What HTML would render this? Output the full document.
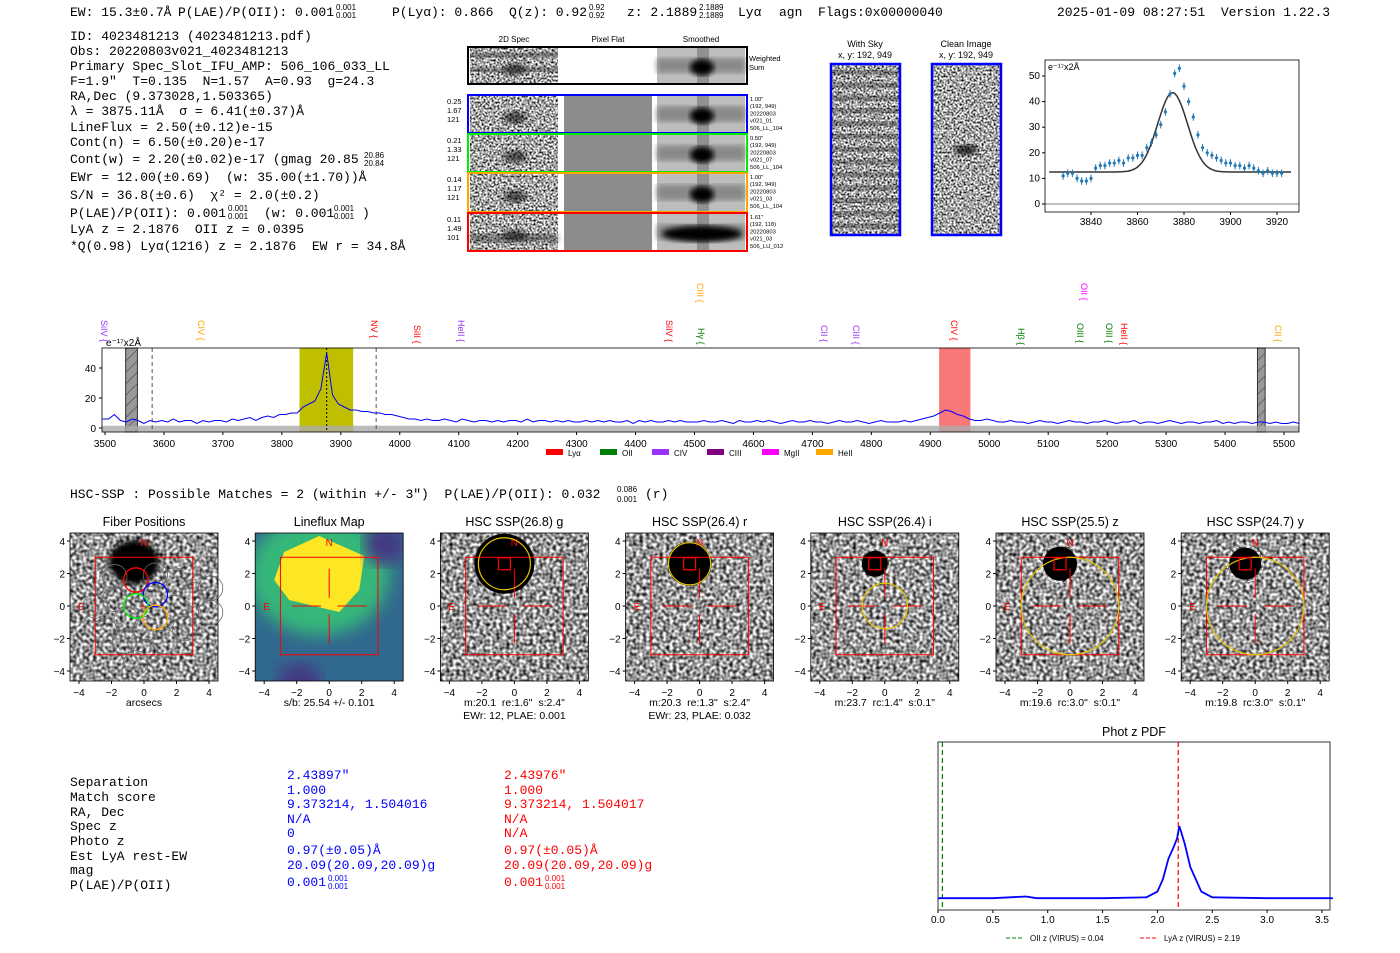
<!DOCTYPE html>
<html><head><meta charset="utf-8"><style>
body{margin:0;background:#fff;}
svg{display:block;font-family:"Liberation Sans","DejaVu Sans",sans-serif;}
svg text{white-space:pre;}
.mono{font-family:"Liberation Mono","DejaVu Sans Mono",monospace;font-size:13px;fill:#000;}
.tk{font-size:10px;fill:#000;}
.t9{font-size:8px;fill:#000;}
</style></head><body>
<svg id="root" width="1400" height="953" viewBox="0 0 1400 953" xml:space="preserve">
<defs>
<filter id="noise" x="0" y="0" width="100%" height="100%" color-interpolation-filters="sRGB"><feTurbulence type="fractalNoise" baseFrequency="0.3" numOctaves="1" seed="3"/><feColorMatrix type="matrix" values="1 0 0 0 0  1 0 0 0 0  1 0 0 0 0  0 0 0 0 1"/><feComponentTransfer><feFuncR type="linear" slope="1.9" intercept="-0.35"/><feFuncG type="linear" slope="1.9" intercept="-0.35"/><feFuncB type="linear" slope="1.9" intercept="-0.35"/></feComponentTransfer></filter>
<filter id="noise2" x="0" y="0" width="100%" height="100%" color-interpolation-filters="sRGB"><feTurbulence type="fractalNoise" baseFrequency="0.5" numOctaves="1" seed="7"/><feColorMatrix type="matrix" values="1 0 0 0 0  1 0 0 0 0  1 0 0 0 0  0 0 0 0 1"/><feComponentTransfer><feFuncR type="linear" slope="2.3" intercept="-0.5"/><feFuncG type="linear" slope="2.3" intercept="-0.5"/><feFuncB type="linear" slope="2.3" intercept="-0.5"/></feComponentTransfer></filter>
<filter id="blur3"><feGaussianBlur stdDeviation="3"/></filter>
<filter id="blur8"><feGaussianBlur stdDeviation="8"/></filter>
<pattern id="hatch" width="8" height="8" patternUnits="userSpaceOnUse" patternTransform="rotate(-45)"><rect width="8" height="8" fill="#999"/><line x1="0" y1="0" x2="8" y2="0" stroke="#333" stroke-width="1"/></pattern>
</defs>

<g>
<text class="mono" x="70" y="16">EW: 15.3±0.7Å</text>
<text class="mono" x="178" y="16">P(LAE)/P(OII): 0.001</text>
<text class="mono" x="392" y="16">P(Lyα): 0.866</text>
<text class="mono" x="509" y="16">Q(z): 0.92</text>
<text class="mono" x="627" y="16">z: 2.1889</text>
<text class="mono" x="738" y="16">Lyα</text>
<text class="mono" x="779" y="16">agn</text>
<text class="mono" x="818" y="16">Flags:0x00000040</text>
</g>
<text class="mono" x="1057" y="16">2025-01-09 08:27:51  Version 1.22.3</text>

<g>
<text class="mono" x="70" y="40">ID: 4023481213 (4023481213.pdf)</text>
<text class="mono" x="70" y="55">Obs: 20220803v021_4023481213</text>
<text class="mono" x="70" y="70">Primary Spec_Slot_IFU_AMP: 506_106_033_LL</text>
<text class="mono" x="70" y="85">F=1.9"  T=0.135  N=1.57  A=0.93  g=24.3</text>
<text class="mono" x="70" y="100">RA,Dec (9.373028,1.503365)</text>
<text class="mono" x="70" y="115">λ = 3875.11Å  σ = 6.41(±0.37)Å</text>
<text class="mono" x="70" y="131">LineFlux = 2.50(±0.12)e-15</text>
<text class="mono" x="70" y="146">Cont(n) = 6.50(±0.20)e-17</text>
<text class="mono" x="70" y="163">Cont(w) = 2.20(±0.02)e-17 (gmag 20.85</text>
<text class="mono" x="70" y="181">EWr = 12.00(±0.69)  (w: 35.00(±1.70))Å</text>
<text class="mono" x="70" y="199">S/N = 36.8(±0.6)  χ² = 2.0(±0.2)</text>
<text class="mono" x="70" y="217">P(LAE)/P(OII): 0.001</text>
<text class="mono" x="264" y="217">(w: 0.001</text>
<text class="mono" x="362" y="217">)</text>
<text class="mono" x="70" y="233">LyA z = 2.1876  OII z = 0.0395</text>
<text class="mono" x="70" y="250">*Q(0.98) Lyα(1216) z = 2.1876  EW r = 34.8Å</text>
</g>

<g id="spec2d"></g>
<g id="skyimgs"></g>
<g id="fitplot"></g>
<g id="spec"></g>

<g>
<text class="mono" x="70" y="498">HSC-SSP : Possible Matches = 2 (within +/- 3")  P(LAE)/P(OII): 0.032</text>
<text x="617" y="492" style="font-size:8px">0.086</text><text x="617" y="502" style="font-size:8px">0.001</text><text class="mono" x="645" y="498">(r)</text>
</g>

<g id="thumbs"></g>

<g>
<text class="mono" x="70" y="786">Separation</text><text class="mono" x="70" y="801">Match score</text><text class="mono" x="70" y="816">RA, Dec</text><text class="mono" x="70" y="830">Spec z</text><text class="mono" x="70" y="845">Photo z</text><text class="mono" x="70" y="860">Est LyA rest-EW</text><text class="mono" x="70" y="874">mag</text><text class="mono" x="70" y="889">P(LAE)/P(OII)</text>
<text class="mono" style="fill:#0000ff" x="287" y="779">2.43897"</text><text class="mono" style="fill:#0000ff" x="287" y="794">1.000</text><text class="mono" style="fill:#0000ff" x="287" y="808">9.373214, 1.504016</text><text class="mono" style="fill:#0000ff" x="287" y="823">N/A</text><text class="mono" style="fill:#0000ff" x="287" y="837">0</text><text class="mono" style="fill:#0000ff" x="287" y="854">0.97(±0.05)Å</text><text class="mono" style="fill:#0000ff" x="287" y="869">20.09(20.09,20.09)g</text><text class="mono" style="fill:#0000ff" x="287" y="886">0.001</text>
<text class="mono" style="fill:#ff0000" x="504" y="779">2.43976"</text><text class="mono" style="fill:#ff0000" x="504" y="794">1.000</text><text class="mono" style="fill:#ff0000" x="504" y="808">9.373214, 1.504017</text><text class="mono" style="fill:#ff0000" x="504" y="823">N/A</text><text class="mono" style="fill:#ff0000" x="504" y="837">N/A</text><text class="mono" style="fill:#ff0000" x="504" y="854">0.97(±0.05)Å</text><text class="mono" style="fill:#ff0000" x="504" y="869">20.09(20.09,20.09)g</text><text class="mono" style="fill:#ff0000" x="504" y="886">0.001</text>
</g>

<g id="photz"></g>
</svg>

<script>
// ---------- data ----------
const specStart = 3496, specStep = 10;
const specFlux = [6,6,9,5,4,6,5,3,5,4,5,4,6,4,5,5,3,5,4,5,5,4,6,5,6,7,5,7,8,7,
 9,9,10,10,14,16,18,26,
 50,
 22,16,14,12,12,11,11,10,
 10,9,9,8,7,6,6,5,6,5,5,6,5,4,
 6,5,4,5,5,4,5,4,5,5,4,6,4,5,5,4,5,4,5,4,4,5,4,5,4,5,4,4,5,3,5,4,5,4,4,5,4,5,4,4,
 4,5,4,4,5,4,3,5,4,4,5,4,5,4,3,4,5,4,4,5,4,4,3,4,5,4,4,5,4,3,4,5,4,4,4,5,4,5,6,7,
 8,10,12,11,9,8,6,5,5,6,
 5,4,4,5,4,4,3,4,5,4,4,3,4,5,4,4,3,4,4,5,4,3,4,4,5,3,4,4,3,4,5,4,3,4,4,3,4,4,5,3,4,3,4,4,3,4,4,3,4,3,3,4,3];
const specXTicks = [3500,3600,3700,3800,3900,4000,4100,4200,4300,4400,4500,4600,4700,4800,4900,5000,5100,5200,5300,5400,5500];
const specYTicks = [0,20,40];
const fitWave = [3828,3830,3832,3834,3836,3838,3840,3842,3844,3846,3848,3850,3852,3854,3856,3858,3860,3862,3864,3866,3868,3870,3872,3874,3876,3878,3880,3882,3884,3886,3888,3890,3892,3894,3896,3898,3900,3902,3904,3906,3908,3910,3912,3914,3916,3918,3920,3922];
const fitFlux = [11,12,12,10,9,9,10,14,15,15,16,16,17,16,18,18,19,19,22,24,27,31,36,43,51,53,46,40,34,27,22,20,19,18,17,16,16,15,15,14,15,14,13,12,13,12,12,12];
const fitXTicks = [3840,3860,3880,3900,3920];
const fitYTicks = [0,10,20,30,40,50];
const fitCenter = 3875.1, fitSigma = 6.41, fitAmp = 31, fitBase = 12.5;
const pzZ = [0,0.5,0.8,0.9,1.0,1.5,1.9,2.0,2.05,2.1,2.15,2.18,2.2,2.25,2.3,2.4,2.5,3.0,3.6];
const pzP = [0.12,0.12,0.14,0.12,0.12,0.12,0.13,0.2,0.35,0.6,0.75,0.85,1.0,0.78,0.5,0.2,0.13,0.12,0.12];
const pzXTicks = [0,0.5,1.0,1.5,2.0,2.5,3.0,3.5];
const thumbTitles = ["Fiber Positions","Lineflux Map","HSC SSP(26.8) g","HSC SSP(26.4) r","HSC SSP(26.4) i","HSC SSP(25.5) z","HSC SSP(24.7) y"];
const thumbCap1 = ["arcsecs","s/b: 25.54 +/- 0.101",'m:20.1  re:1.6"  s:2.4"','m:20.3  re:1.3"  s:2.4"','m:23.7  rc:1.4"  s:0.1"','m:19.6  rc:3.0"  s:0.1"','m:19.8  rc:3.0"  s:0.1"'];
const thumbCap2 = ["","","EWr: 12, PLAE: 0.001","EWr: 23, PLAE: 0.032","","",""];
const thumbEllipseR = [0,0,1.6,1.3,1.4,3.0,3.0];

const NS="http://www.w3.org/2000/svg";
function mk(parent,tag,attrs,text){const e=document.createElementNS(NS,tag);for(const k in attrs)e.setAttribute(k,attrs[k]);if(text!==undefined)e.textContent=text;parent.appendChild(e);return e;}

// ---------- 2D spectra ----------
(function(){
 const g=document.getElementById('spec2d');
 mk(g,'text',{x:514,y:42,'text-anchor':'middle',class:'t9'},'2D Spec');
 mk(g,'text',{x:608,y:42,'text-anchor':'middle',class:'t9'},'Pixel Flat');
 mk(g,'text',{x:701,y:42,'text-anchor':'middle',class:'t9'},'Smoothed');
 const rows=[{y:47,h:37,c:'#000'},{y:95,h:38,c:'#0000ff',t:['0.25','1.67','121'],r:['1.00"','(192, 949)','20220803','v021_01','506_LL_104']},{y:134,h:38,c:'#00ee00',t:['0.21','1.33','121'],r:['0.50"','(192, 949)','20220803','v021_07','506_LL_104']},{y:173,h:39,c:'#ffa500',t:['0.14','1.17','121'],r:['1.00"','(192, 949)','20220803','v021_03','506_LL_104']},{y:213,h:38,c:'#ff0000',t:['0.11','1.49','101'],r:['1.61"','(192, 118)','20220803','v021_03','506_LU_012']}];
 rows.forEach((r,i)=>{
  const rg=mk(g,'g',{});
  
  
  mk(rg,'rect',{x:470,y:r.y+1,width:88,height:r.h-2,fill:'#888',filter:'url(#noise2)'});
  mk(rg,'ellipse',{cx:515,cy:r.y+r.h*0.6,rx:12,ry:6,fill:'#000',opacity:0.6,filter:'url(#blur3)'});
  if(i==0){mk(rg,'rect',{x:470,y:r.y+r.h*0.15,width:88,height:5,fill:'#333',opacity:0.4});mk(rg,'rect',{x:470,y:r.y+r.h*0.55,width:88,height:5,fill:'#333',opacity:0.4});}
  if(i==4) mk(rg,'rect',{x:470,y:r.y+r.h*0.55,width:88,height:8,fill:'#222',opacity:0.5,filter:'url(#blur3)'});
  if(i>0) mk(rg,'rect',{x:564,y:r.y+1,width:88,height:r.h-2,fill:'#8c8c8c'});
  mk(rg,'rect',{x:657,y:r.y+1,width:88,height:r.h-2,fill:'#bdbdbd'});
  mk(rg,'rect',{x:657,y:r.y+r.h*0.3,width:88,height:r.h*0.4,fill:'#888',filter:'url(#blur3)'});
  mk(rg,'rect',{x:697,y:r.y+1,width:12,height:r.h-2,fill:'#666',opacity:0.5});
  mk(rg,'ellipse',{cx:702,cy:r.y+r.h*0.55,rx:i==4?40:12,ry:8,fill:'#000',filter:'url(#blur3)'});
  mk(rg,'rect',{x:468,y:r.y,width:279,height:r.h,fill:'none',stroke:r.c,'stroke-width':2});
  if(r.t) r.t.forEach((s,k)=>mk(rg,'text',{x:447,y:r.y+9+k*9,style:'font-size:7.5px'},s));
  if(r.r) r.r.forEach((s,k)=>mk(rg,'text',{x:750,y:r.y+6+k*7.2,style:'font-size:5.8px'},s));
 });
 mk(g,'text',{x:749,y:61,style:'font-size:7.5px'},'Weighted');
 mk(g,'text',{x:749,y:70,style:'font-size:7.5px'},'Sum');
})();

// ---------- sky cutouts ----------
(function(){
 const g=document.getElementById('skyimgs');
 mk(g,'text',{x:865,y:47,'text-anchor':'middle',style:'font-size:9px'},'With Sky');
 mk(g,'text',{x:865,y:58,'text-anchor':'middle',style:'font-size:9px'},'x, y: 192, 949');
 mk(g,'text',{x:966,y:47,'text-anchor':'middle',style:'font-size:9px'},'Clean Image');
 mk(g,'text',{x:966,y:58,'text-anchor':'middle',style:'font-size:9px'},'x, y: 192, 949');
 mk(g,'rect',{x:832,y:65,width:67,height:169,fill:'#999',filter:'url(#noise2)'});
 for(let k=0;k<13;k++) mk(g,'rect',{x:832,y:70+k*12.8,width:67,height:5,fill:'#222',opacity:0.35});
 mk(g,'rect',{x:933,y:65,width:67,height:169,fill:'#999',filter:'url(#noise2)'});
 mk(g,'ellipse',{cx:966,cy:150,rx:12,ry:5,fill:'#000',opacity:0.8,filter:'url(#blur3)'});
 mk(g,'rect',{x:831,y:64,width:69,height:171,fill:'none',stroke:'#0000ff','stroke-width':2.5});
 mk(g,'rect',{x:932,y:64,width:69,height:171,fill:'none',stroke:'#0000ff','stroke-width':2.5});
})();

// ---------- fit plot ----------
(function(){
 const g=document.getElementById('fitplot');
 const L=1045,R=1299,T=60,B=212;
 const fx=w=>1091+(w-3840)*(186/80), fy=v=>204-v*2.56;
 mk(g,'rect',{x:L,y:T,width:R-L,height:B-T,fill:'#fff',stroke:'#000','stroke-width':0.8});
 mk(g,'line',{x1:L,x2:R,y1:fy(0),y2:fy(0),stroke:'#000','stroke-width':0.6});
 fitXTicks.forEach(t=>{mk(g,'line',{x1:fx(t),x2:fx(t),y1:B,y2:B+3,stroke:'#000'});mk(g,'text',{x:fx(t),y:B+13,'text-anchor':'middle',class:'tk'},t);});
 fitYTicks.forEach(t=>{mk(g,'line',{x1:L-3,x2:L,y1:fy(t),y2:fy(t),stroke:'#000'});mk(g,'text',{x:L-5,y:fy(t)+3,'text-anchor':'end',class:'tk'},t);});
 mk(g,'text',{x:L+3,y:T+10,style:'font-size:9px'},'e⁻¹⁷x2Å');
 let d='';for(let w=3822;w<=3926;w+=1){const v=fitBase+fitAmp*Math.exp(-0.5*((w-fitCenter)/fitSigma)**2);d+=(d?'L':'M')+fx(w).toFixed(1)+','+fy(v).toFixed(1);}
 const m=mk(g,'path',{d:d,fill:'none',stroke:'#333','stroke-width':1.5});
 
 
 fitWave.forEach((w,i)=>{
  const p=mk(g,'g',{});
  
  
  mk(p,'line',{x1:fx(w),x2:fx(w),y1:fy(fitFlux[i]+1.5),y2:fy(fitFlux[i]-1.5),stroke:'#1f77b4','stroke-width':1});
  mk(p,'circle',{cx:fx(w),cy:fy(fitFlux[i]),r:1.6,fill:'#1f77b4'});
 });
})();

// ---------- full spectrum ----------
(function(){
 const g=document.getElementById('spec');
 const L=102,R=1299,T=348,B=432;
 const sx=w=>105+(w-3500)*(1179/2000), sy=v=>428-v*1.5;
 mk(g,'rect',{x:L,y:T,width:R-L,height:B-T,fill:'#fff'});
 mk(g,'rect',{x:sx(3830),y:T,width:sx(3921)-sx(3830),height:B-T,fill:'#bfbf00'});
 mk(g,'rect',{x:sx(4915),y:T,width:sx(4968)-sx(4915),height:B-T,fill:'#f87777'});
 mk(g,'rect',{x:sx(3535),y:T,width:sx(3555)-sx(3535),height:B-T,fill:'url(#hatch)',stroke:'#333'});
 mk(g,'rect',{x:sx(5455),y:T,width:sx(5468)-sx(5455),height:B-T,fill:'url(#hatch)',stroke:'#333'});
 mk(g,'rect',{x:L,y:sy(1.5),width:R-L,height:6,fill:'#aaa',opacity:0.8});
 [3580,3960].forEach(w=>mk(g,'line',{x1:sx(w),x2:sx(w),y1:T,y2:B,stroke:'#555','stroke-dasharray':'4,3'}));
 mk(g,'line',{x1:sx(3876),x2:sx(3876),y1:T,y2:B,stroke:'#000','stroke-dasharray':'2,2'});
 const pts=specFlux.map((v,i)=>sx(specStart+i*specStep).toFixed(1)+','+sy(v).toFixed(1)).join(' ');
 const pl=mk(g,'polyline',{points:pts,fill:'none',stroke:'#0000ff','stroke-width':1});
 
 
 mk(g,'rect',{x:L,y:T,width:R-L,height:B-T,fill:'none',stroke:'#000','stroke-width':0.8});
 specXTicks.forEach(t=>{mk(g,'line',{x1:sx(t),x2:sx(t),y1:B,y2:B+3,stroke:'#000'});mk(g,'text',{x:sx(t),y:B+15,'text-anchor':'middle',class:'tk'},t);});
 specYTicks.forEach(t=>{mk(g,'line',{x1:L-3,x2:L,y1:sy(t),y2:sy(t),stroke:'#000'});mk(g,'text',{x:L-6,y:sy(t)+4,'text-anchor':'end',class:'tk'},t);});
 mk(g,'text',{x:106,y:346,style:'font-size:10px'},'e⁻¹⁷x2Å');
 const lines=[['SiIV',101,'#9933ff',320],['CIV',198,'#ffa500',320],['NV',371,'#ff0000',320],['SiII',414,'#ff0000',325],['HeII',458,'#9933ff',320],['SiIV',666,'#ff0000',320],['CIII',697,'#ffa500',283],['Hγ',698,'#008000',328],['CII',821,'#9933ff',325],['CIII',853,'#9933ff',325],['CIV',951,'#ff0000',320],['Hβ',1018,'#008000',328],['OII',1081,'#ff00ff',283],['OIII',1077,'#008000',323],['OIII',1106,'#008000',323],['HeII',1121,'#ff0000',323],['CII',1275,'#ffa500',325]];
 lines.forEach(l=>{const t=mk(g,'text',{x:l[1],y:l[3],fill:l[2],style:'font-size:9px',transform:'rotate(90 '+l[1]+' '+l[3]+')'},l[0]+' {');
  });
 const leg=[['Lyα','#ff0000',546],['OII','#008000',600],['CIV','#9933ff',652],['CIII','#800080',707],['MgII','#ff00ff',762],['HeII','#ffa500',816]];
 leg.forEach(l=>{const e=mk(g,'g',{});
  mk(e,'rect',{x:l[2],y:449,width:17,height:6,fill:l[1]});mk(e,'text',{x:l[2]+22,y:456,style:'font-size:8px'},l[0]);});
})();

// ---------- thumbnails ----------
(function(){
 const g=document.getElementById('thumbs');
 for(let i=0;i<7;i++){
  const cx=144+i*185.2, cy=606, s=16.25;
  const tg=mk(g,'g',{});
  
  
  mk(tg,'text',{x:cx,y:526,'text-anchor':'middle',style:'font-size:12.5px'},thumbTitles[i]);
  const x0=cx-74,y0=533;
  const cp='c'+i;const clip=mk(tg,'clipPath',{id:cp});mk(clip,'rect',{x:x0,y:y0,width:148,height:148});
  const ig=mk(tg,'g',{'clip-path':'url(#'+cp+')'});
  if(i==1){
   mk(ig,'rect',{x:x0,y:y0,width:148,height:148,fill:'#31688e'});
   mk(ig,'ellipse',{cx:cx-10,cy:575,rx:70,ry:60,fill:'#35b779',filter:'url(#blur8)'});
   mk(ig,'polygon',{points:(cx-45)+',552 '+(cx-10)+',536 '+(cx+35)+',556 '+(cx+30)+',590 '+(cx+10)+',612 '+(cx-40)+',600 '+(cx-55)+',580',fill:'#fde725'});
   mk(ig,'circle',{cx:cx+55,cy:545,r:20,fill:'#443983',filter:'url(#blur8)'});
   mk(ig,'circle',{cx:cx-30,cy:685,r:22,fill:'#443983',filter:'url(#blur8)'});
  } else {
   mk(ig,'rect',{x:x0,y:y0,width:148,height:148,fill:'#999',filter:'url(#noise)'});
   const r=[0,0,30,22,13,17,16][i];
   if(i==0) mk(ig,'ellipse',{cx:cx-10,cy:cy-s*2.7,rx:25,ry:22,fill:'#000',filter:'url(#blur3)'});
   else mk(ig,'circle',{cx:cx-10,cy:cy-s*2.6,r:r,fill:'#000'});
   if(i>=4) mk(ig,'circle',{cx:cx-10,cy:cy-s*2.6,r:r+2,fill:'none',stroke:'#fff','stroke-dasharray':'2,2'});
  }
  mk(tg,'rect',{x:x0,y:y0,width:148,height:148,fill:'none',stroke:'#000','stroke-width':0.8});
  mk(tg,'rect',{x:cx-3*s,y:cy-3*s,width:6*s,height:6*s,fill:'none',stroke:'#ff0000','stroke-width':1});
  mk(tg,'text',{x:cx,y:546,'text-anchor':'middle',fill:'#ff0000',style:'font-size:10px'},'N');
  mk(tg,'text',{x:cx-66,y:610,fill:'#ff0000',style:'font-size:10px'},'E');
  if(i==0){
   const fib=[[-2.4,1.6],[-1.8,0.4],[1.9,1.6],[3.1,0.7],[4.1,1.1],[-3,0],[-1.1,-0.8],[1.9,-0.1],[4.1,-0.4],[-2.4,-1.5],[-1.2,-2.2],[0.1,-1.4],[1.3,-2.2],[2.5,-1.4],[0.1,-2.8],[-0.5,-3.5],[-1.8,1.8],[0.7,1.9]];
   fib.forEach(f=>mk(tg,'circle',{cx:cx+f[0]*s,cy:cy-f[1]*s,r:0.75*s,fill:'none',stroke:'#666','stroke-width':0.8}));
   [[-0.5,1.6,'#ff0000'],[0.7,0.7,'#0000ff'],[-0.5,0,'#00ee00'],[0.7,-0.7,'#ffa500']].forEach(f=>mk(tg,'circle',{cx:cx+f[0]*s,cy:cy-f[1]*s,r:0.75*s,fill:'none',stroke:f[2],'stroke-width':1.3}));
   mk(tg,'text',{x:cx-4,y:cy+4,fill:'#ff0000',style:'font-size:10px'},'+');
  } else {
   mk(tg,'line',{x1:cx-2.3*s,x2:cx-0.5*s,y1:cy,y2:cy,stroke:'#ff0000'});
   mk(tg,'line',{x1:cx+0.5*s,x2:cx+2.3*s,y1:cy,y2:cy,stroke:'#ff0000'});
   mk(tg,'line',{x1:cx,x2:cx,y1:cy-2.3*s,y2:cy-0.5*s,stroke:'#ff0000'});
   mk(tg,'line',{x1:cx,x2:cx,y1:cy+0.5*s,y2:cy+2.3*s,stroke:'#ff0000'});
  }
  if(i>=2){
   const er=thumbEllipseR[i]*s; const ey=(i>=4)?cy:cy-s*2.6;
   const ex=(i>=4)?cx:cx-10;
   mk(tg,'circle',{cx:ex,cy:ey,r:er,fill:'none',stroke:'#e6c200','stroke-width':1.2});
   mk(tg,'rect',{x:cx-16,y:cy-2.6*s-6,width:12,height:12,fill:'none',stroke:'#ff0000','stroke-width':1.2});
  }
  [-4,-2,0,2,4].forEach(t=>{
   mk(tg,'line',{x1:cx+t*s,x2:cx+t*s,y1:681,y2:684,stroke:'#000'});
   mk(tg,'text',{x:cx+t*s,y:696,'text-anchor':'middle',class:'tk'},t<0?'−'+(-t):t);
   mk(tg,'line',{x1:x0-3,x2:x0,y1:cy-t*s,y2:cy-t*s,stroke:'#000'});
   mk(tg,'text',{x:x0-5,y:cy-t*s+4,'text-anchor':'end',class:'tk'},t<0?'−'+(-t):t);
  });
  mk(tg,'text',{x:cx,y:706,'text-anchor':'middle',style:'font-size:10.5px'},thumbCap1[i]);
  if(thumbCap2[i]) mk(tg,'text',{x:cx,y:719,'text-anchor':'middle',style:'font-size:10.5px'},thumbCap2[i]);
 }
})();

// ---------- phot z ----------
(function(){
 const g=document.getElementById('photz');
 const L=938,R=1330,T=742,B=910;
 const px=z=>938+z*109.7, py=v=>908-v*82;
 mk(g,'text',{x:1134,y:736,'text-anchor':'middle',style:'font-size:12.5px'},'Phot z PDF');
 mk(g,'rect',{x:L,y:T,width:R-L,height:B-T,fill:'#fff',stroke:'#000','stroke-width':0.8});
 mk(g,'line',{x1:px(0.04),x2:px(0.04),y1:T,y2:B,stroke:'#008000','stroke-dasharray':'5,3','stroke-width':1.2});
 mk(g,'line',{x1:px(2.19),x2:px(2.19),y1:T,y2:B,stroke:'#ff0000','stroke-dasharray':'5,3','stroke-width':1.2});
 const pl=mk(g,'polyline',{points:pzZ.map((z,i)=>px(z).toFixed(1)+','+py(pzP[i]).toFixed(1)).join(' '),fill:'none',stroke:'#0000ff','stroke-width':1.8});
 
 
 pzXTicks.forEach(t=>{mk(g,'line',{x1:px(t),x2:px(t),y1:B,y2:B+3,stroke:'#000'});mk(g,'text',{x:px(t),y:B+13,'text-anchor':'middle',class:'tk'},t.toFixed(1));});
 mk(g,'line',{x1:1006,x2:1024,y1:938,y2:938,stroke:'#008000','stroke-dasharray':'4,2'});
 mk(g,'text',{x:1030,y:941,style:'font-size:8px'},'OII z (VIRUS) = 0.04');
 mk(g,'line',{x1:1140,x2:1158,y1:938,y2:938,stroke:'#ff0000','stroke-dasharray':'4,2'});
 mk(g,'text',{x:1164,y:941,style:'font-size:8px'},'LyA z (VIRUS) = 2.19');
})();

// small super/subscripts
(function(){
 const r=document.getElementById('root');
 const sm=[[336,10,'0.001'],[336,18,'0.001'],[589,10,'0.92'],[589,18,'0.92'],[699,10,'2.1889'],[699,18,'2.1889'],[364,158,'20.86'],[364,166,'20.84'],[228,211,'0.001'],[228,219,'0.001'],[334,211,'0.001'],[334,219,'0.001']];
 sm.forEach(s=>mk(r,'text',{x:s[0],y:s[1],style:'font-size:8px'},s[2]));
 [[328,881,'#0000ff'],[328,889,'#0000ff'],[545,881,'#ff0000'],[545,889,'#ff0000']].forEach(s=>mk(r,'text',{x:s[0],y:s[1],fill:s[2],style:'font-size:8px'},'0.001'));
})();
</script>
</body></html>
